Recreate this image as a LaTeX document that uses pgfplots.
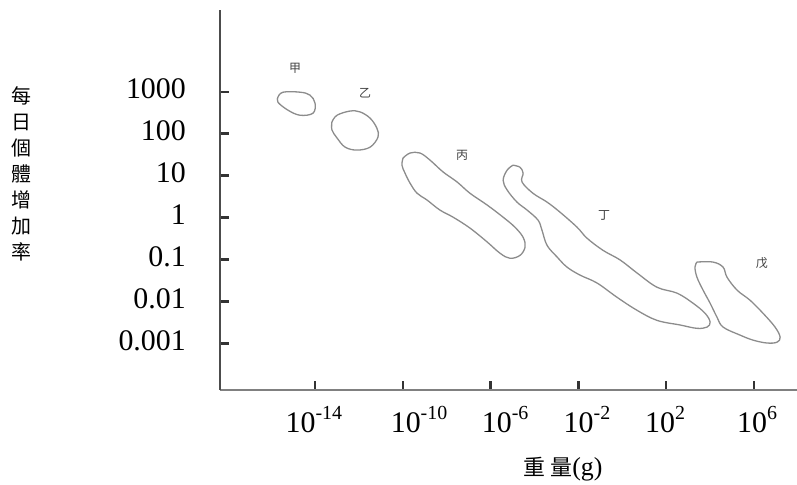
\documentclass[border=0pt]{standalone}
\usepackage{pgfplots}
\pgfplotsset{compat=1.18}
\usepackage{fontspec}
\setmainfont{Liberation Serif}
\newfontfamily\cjk{Noto Sans CJK TC}
\newcommand{\tenp}[1]{10\raisebox{13bp}{\fontsize{20}{20}\selectfont #1}}
\begin{document}
\begin{tikzpicture}[x=1bp,y=1bp]
\path[use as bounding box] (0,0) rectangle (797,485);
\begin{axis}[
  at={(220bp,95bp)}, anchor=south west,
  scale only axis, width=577bp, height=380bp,
  xmin=-18.33, xmax=7.96, ymin=-4.11, ymax=4.95,
  axis lines=left,
  x axis line style={-, line width=1.5bp, draw=black!50},
  y axis line style={-, line width=2bp, draw=black!70},
  tick align=inside,
  major tick length=9bp,
  tick style={line width=2.5bp, draw=black!80},
  ytick={-3,-2,-1,0,1,2,3},
  yticklabels={0.001,0.01,0.1,1,10,100,1000},
  xtick={-14,-10,-6,-2,2,6},
  xticklabels={},
  extra x ticks={-14.05,-9.26,-5.34,-1.61,1.95,6.14},
  extra x tick labels={\tenp{-14},\tenp{-10},\tenp{-6},\tenp{-2},\tenp{2},\tenp{6}},
  extra x tick style={major tick length=0pt, xticklabel style={anchor=base, yshift=-43bp}},
  tick label style={font=\fontsize{30}{30}\selectfont},
  yticklabel style={anchor=east, inner sep=0pt, xshift=-34bp, yshift=3bp},
  clip=false,
]
% 甲
\addplot[draw=black!45, line width=1.3bp, smooth, tension=0.6, mark=none] coordinates {
(-15.69,2.87) (-15.46,2.99) (-14.68,2.99) (-14.23,2.92) (-14.00,2.73) (-14.09,2.49) (-14.68,2.44) (-15.23,2.56) (-15.69,2.75) (-15.69,2.87)};
% 乙
\addplot[draw=black!45, line width=1.3bp, smooth, tension=0.6, mark=none] coordinates {
(-13.23,2.28) (-13.00,2.44) (-12.41,2.54) (-11.95,2.52) (-11.49,2.37) (-11.18,2.13) (-11.13,1.92) (-11.49,1.68) (-12.09,1.61) (-12.63,1.68) (-13.00,1.90) (-13.23,2.09) (-13.23,2.28)};
% 丙
\addplot[draw=black!45, line width=1.3bp, smooth, tension=0.6, mark=none] coordinates {
(-9.99,1.42) (-9.67,1.54) (-9.22,1.54) (-8.76,1.37) (-8.17,1.09) (-7.53,0.85) (-6.94,0.58) (-6.16,0.30) (-5.43,0.01) (-4.89,-0.23) (-4.52,-0.47) (-4.43,-0.70) (-4.66,-0.90) (-5.12,-0.97) (-5.57,-0.85) (-6.16,-0.58) (-6.94,-0.25) (-7.71,0.01) (-8.31,0.18) (-8.90,0.42) (-9.35,0.58) (-9.67,0.82) (-9.90,1.06) (-10.04,1.25) (-9.99,1.42)};
% 丁
\addplot[draw=black!45, line width=1.3bp, smooth, tension=0.6, mark=none] coordinates {
(-4.98,1.25) (-4.66,1.20) (-4.52,1.06) (-4.57,0.85) (-4.07,0.58) (-3.43,0.37) (-2.84,0.13) (-2.06,-0.23) (-1.61,-0.49) (-0.88,-0.78) (-0.10,-1.01) (0.67,-1.32) (1.58,-1.66) (2.49,-1.80) (3.22,-2.04) (3.77,-2.28) (4.00,-2.49) (3.86,-2.61) (3.40,-2.64) (2.63,-2.56) (1.58,-2.45) (0.67,-2.21) (-0.24,-1.90) (-1.15,-1.56) (-1.93,-1.37) (-2.52,-1.18) (-2.97,-0.94) (-3.43,-0.66) (-3.66,-0.30) (-3.84,-0.06) (-4.34,0.18) (-4.80,0.37) (-5.25,0.66) (-5.43,0.89) (-5.25,1.13) (-4.98,1.25)};
% 戊
\addplot[draw=black!45, line width=1.3bp, smooth, tension=0.6, mark=none] coordinates {
(3.40,-1.06) (4.13,-1.06) (4.59,-1.18) (4.77,-1.42) (5.23,-1.73) (5.82,-1.97) (6.41,-2.28) (6.96,-2.61) (7.19,-2.85) (7.05,-2.97) (6.59,-2.99) (5.95,-2.92) (5.36,-2.80) (4.59,-2.61) (4.31,-2.37) (4.00,-2.04) (3.68,-1.73) (3.40,-1.42) (3.31,-1.18) (3.40,-1.06)};
\node[font=\cjk\fontsize{12}{12}\selectfont, text=black!75] at (axis cs:-14.91,3.57) {甲};
\node[font=\cjk\fontsize{12}{12}\selectfont, text=black!75] at (axis cs:-11.72,2.97) {乙};
\node[font=\cjk\fontsize{12}{12}\selectfont, text=black!75] at (axis cs:-7.30,1.49) {丙};
\node[font=\cjk\fontsize{12}{12}\selectfont, text=black!75] at (axis cs:-0.83,0.06) {丁};
\node[font=\cjk\fontsize{12}{12}\selectfont, text=black!75] at (axis cs:6.36,-1.09) {戊};
\end{axis}
\node[font=\cjk\fontsize{20}{26}\selectfont, align=center, inner sep=0pt] at (21,311) {每\\日\\個\\體\\增\\加\\率};
\node[inner sep=0pt] at (563,16) {{\cjk\fontsize{22}{22}\selectfont 重\hspace{5bp}量}{\fontsize{26}{26}\selectfont (g)}};
\end{tikzpicture}
\end{document}
